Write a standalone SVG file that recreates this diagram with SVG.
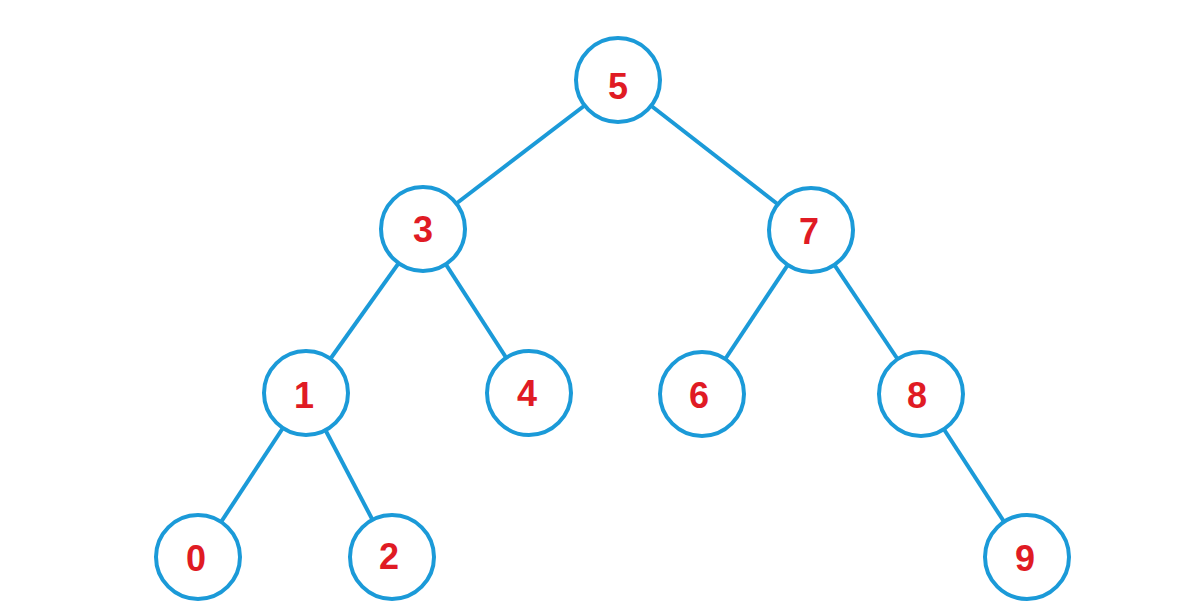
<svg xmlns="http://www.w3.org/2000/svg" width="1190" height="601" viewBox="0 0 1190 601">
<style>
.n{fill:#fff;stroke:#1b9ad8;stroke-width:4}
.e line{stroke:#1b9ad8;stroke-width:4}
.t{font-family:"Liberation Sans",Arial,sans-serif;font-weight:bold;font-size:36px;fill:#e01b24;text-anchor:middle;dominant-baseline:central}
</style>
<rect width="1190" height="601" fill="#fff"/>
<g class="e" id="edges">
<line x1="618" y1="80" x2="423" y2="229"/>
<line x1="618" y1="80" x2="811" y2="230"/>
<line x1="423" y1="229" x2="306" y2="393"/>
<line x1="423" y1="229" x2="529" y2="393"/>
<line x1="811" y1="230" x2="702" y2="394"/>
<line x1="811" y1="230" x2="921" y2="394"/>
<line x1="306" y1="393" x2="198" y2="557"/>
<line x1="306" y1="393" x2="392" y2="557"/>
<line x1="921" y1="394" x2="1027" y2="557"/>
</g>
<g id="n5"><circle class="n" cx="618" cy="80" r="42"/><text class="t" x="618" y="86">5</text></g>
<g id="n3"><circle class="n" cx="423" cy="229" r="42"/><text class="t" x="423" y="229">3</text></g>
<g id="n7"><circle class="n" cx="811" cy="230" r="42"/><text class="t" x="809" y="231">7</text></g>
<g id="n1"><circle class="n" cx="306" cy="393" r="42"/><text class="t" x="304" y="395">1</text></g>
<g id="n4"><circle class="n" cx="529" cy="393" r="42"/><text class="t" x="527" y="393">4</text></g>
<g id="n6"><circle class="n" cx="702" cy="394" r="42"/><text class="t" x="699" y="395">6</text></g>
<g id="n8"><circle class="n" cx="921" cy="394" r="42"/><text class="t" x="917" y="395">8</text></g>
<g id="n0"><circle class="n" cx="198" cy="557" r="42"/><text class="t" x="196" y="558">0</text></g>
<g id="n2"><circle class="n" cx="392" cy="557" r="42"/><text class="t" x="389" y="556">2</text></g>
<g id="n9"><circle class="n" cx="1027" cy="557" r="42"/><text class="t" x="1025" y="558">9</text></g>
</svg>
